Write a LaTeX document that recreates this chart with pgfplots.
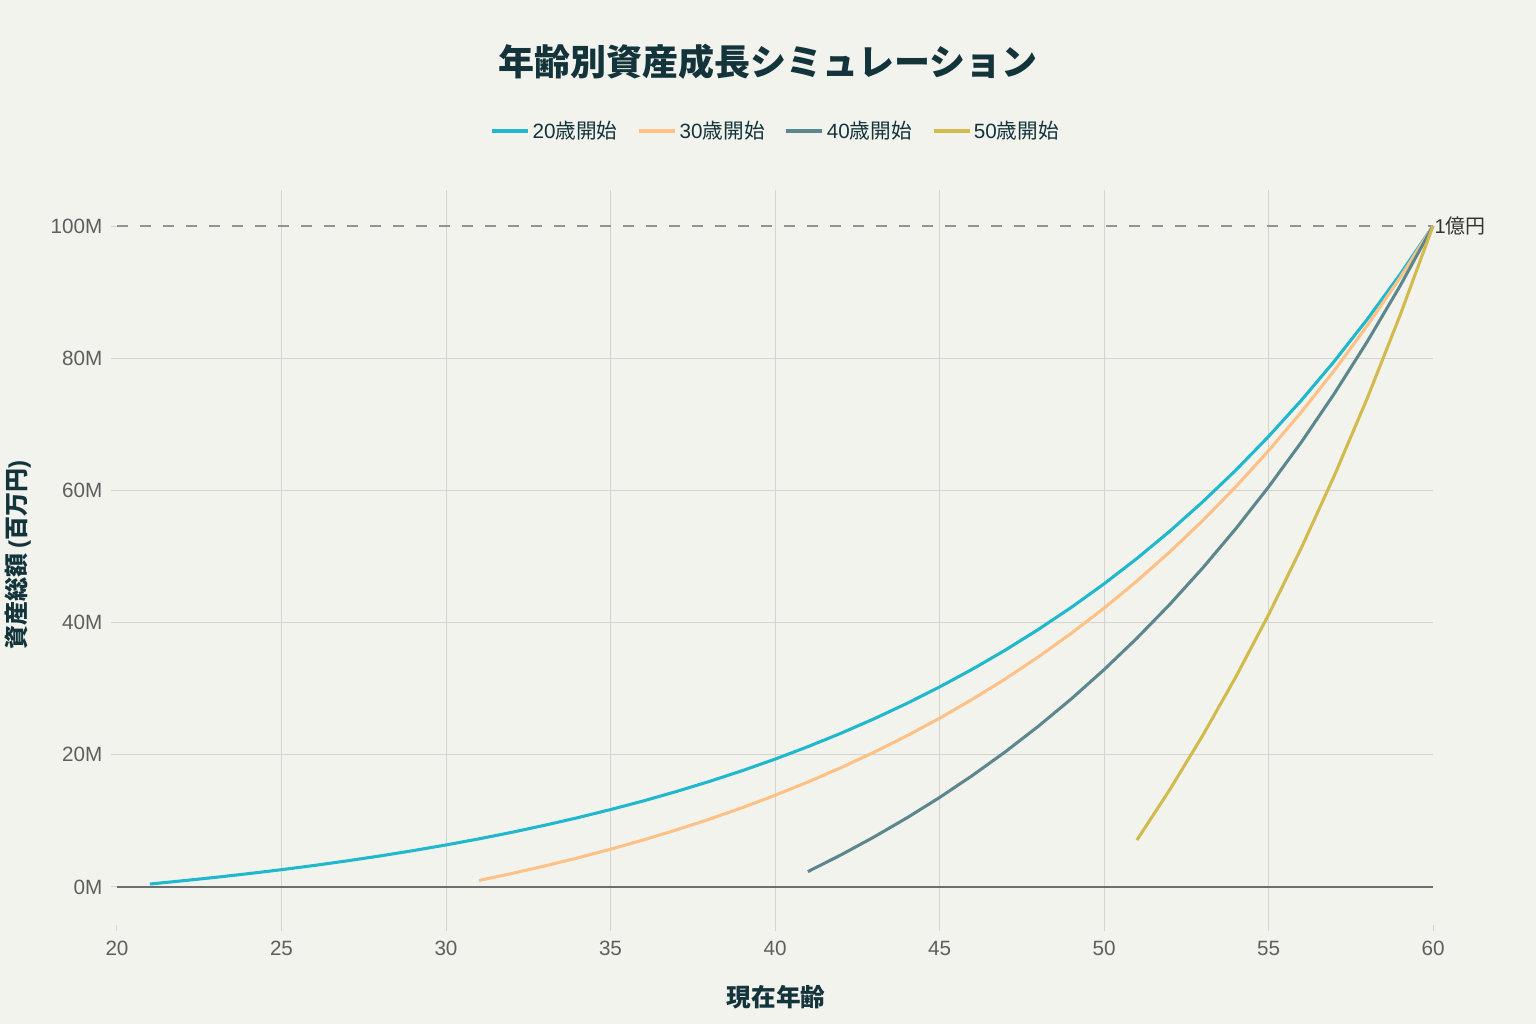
\documentclass[border=0pt]{standalone}
\usepackage{pgfplots}
\pgfplotsset{compat=1.18}
\usepackage{fontspec}
\setmainfont{Noto Sans CJK JP}
\newfontfamily\lat{Liberation Sans}

\definecolor{bg}{HTML}{F3F3EE}
\definecolor{ink}{HTML}{13343B}
\definecolor{ticktxt}{HTML}{5E5E5E}
\definecolor{gridc}{HTML}{D3D3CF}
\definecolor{c20}{HTML}{1FB8CD}
\definecolor{c30}{HTML}{FFC185}
\definecolor{c40}{HTML}{5D878F}
\definecolor{c50}{HTML}{D2BA4C}

\begin{document}
\begin{tikzpicture}
% background, 1px = 0.75pt, plot area SW corner at (0,0)
\fill[bg] (-87.75pt,-74.25pt) rectangle (1064.25pt,693.75pt);
\begin{axis}[
  at={(0,0)}, anchor=south west,
  width=987pt, height=551.25pt, scale only axis,
  xmin=20, xmax=60, ymin=-5.75, ymax=105.45,
  axis line style={draw=none},
  xtick={25,30,...,55},
  extra x ticks={20,60},
  extra x tick style={grid=none},
  ytick={20,40,60,80},
  yticklabels={20M,40M,60M,80M},
  extra y ticks={0,100},
  extra y tick labels={0M,100M},
  extra y tick style={grid=none},
  grid=major,
  major grid style={gridc, line width=0.75pt},
  tick align=outside,
  major tick length=4.5pt,
  tick style={gridc, line width=0.75pt},
  xtick pos=bottom, ytick pos=left,
  /pgf/number format/assume math mode=true,
  tick label style={font=\lat\fontsize{15.5}{17}\selectfont, text=ticktxt},
  xticklabel style={yshift=-4pt},
  yticklabel style={xshift=-3pt},
  clip=false,
  legend columns=4,
  legend style={at={(axis description cs:0.5008,1.0803)}, anchor=center,
    draw=none, fill=none, font=\fontsize{15.5}{17}\selectfont, text=ink,
    /tikz/every even column/.append style={column sep=13pt}},
  legend image code/.code={\draw[#1, line width=2.6pt] (0pt,0pt) -- (27pt,0pt);},
]
\draw[ticktxt!90, line width=1pt] (axis cs:20,0) -- (axis cs:60,0);
\draw[gray!85, line width=1.6pt, dash pattern=on 8.25pt off 9pt] (axis cs:20,100) -- (axis cs:60,100);

\addplot[c20, line width=2.3pt] coordinates {
(21,0.45) (22,0.94) (23,1.46) (24,2.02) (25,2.62) (26,3.26) (27,3.96) (28,4.70)
(29,5.50) (30,6.36) (31,7.28) (32,8.27) (33,9.34) (34,10.48) (35,11.71) (36,13.02)
(37,14.44) (38,15.96) (39,17.59) (40,19.34) (41,21.23) (42,23.25) (43,25.42) (44,27.75)
(45,30.26) (46,32.95) (47,35.84) (48,38.95) (49,42.28) (50,45.86) (51,49.70) (52,53.83)
(53,58.27) (54,63.03) (55,68.15) (56,73.64) (57,79.54) (58,85.88) (59,92.69) (60,100)
};
\addlegendentry{{\lat 20}歳開始}
\addplot[c30, line width=2.3pt] coordinates {
(31,0.98) (32,2.04) (33,3.18) (34,4.40) (35,5.71) (36,7.12) (37,8.63) (38,10.25)
(39,11.99) (40,13.87) (41,15.88) (42,18.04) (43,20.36) (44,22.85) (45,25.52) (46,28.40)
(47,31.48) (48,34.80) (49,38.36) (50,42.18) (51,46.29) (52,50.70) (53,55.43) (54,60.52)
(55,65.99) (56,71.86) (57,78.15) (58,84.92) (59,92.19) (60,100)
};
\addlegendentry{{\lat 30}歳開始}
\addplot[c40, line width=2.3pt] coordinates {
(41,2.33) (42,4.84) (43,7.54) (44,10.43) (45,13.53) (46,16.87) (47,20.45) (48,24.30)
(49,28.43) (50,32.87) (51,37.64) (52,42.76) (53,48.26) (54,54.17) (55,60.51) (56,67.31)
(57,74.64) (58,82.50) (59,90.94) (60,100)
};
\addlegendentry{{\lat 40}歳開始}
\addplot[c50, line width=2.3pt] coordinates {
(51,7.10) (52,14.73) (53,22.92) (54,31.72) (55,41.17) (56,51.32) (57,62.22) (58,73.92)
(59,86.50) (60,100)
};
\addlegendentry{{\lat 50}歳開始}

\node[anchor=west, inner sep=1pt, font=\fontsize{15}{17}\selectfont, text=black!80] at (axis cs:60,100) {{\lat 1}億円};
\node[font=\bfseries\fontsize{27}{30}\selectfont, text=ink] at (axis description cs:0.4947,1.1741) {年齢別資産成長シミュレーション};
\node[font=\bfseries\fontsize{18.5}{20}\selectfont, text=ink] at (494.25pt,-54pt) {現在年齢};
\node[font=\bfseries\fontsize{18}{20}\selectfont, text=ink, rotate=90] at (-74.25pt,277.5pt) {資産総額 {\lat\bfseries (}百万円{\lat\bfseries )}};
\end{axis}
\end{tikzpicture}
\end{document}
